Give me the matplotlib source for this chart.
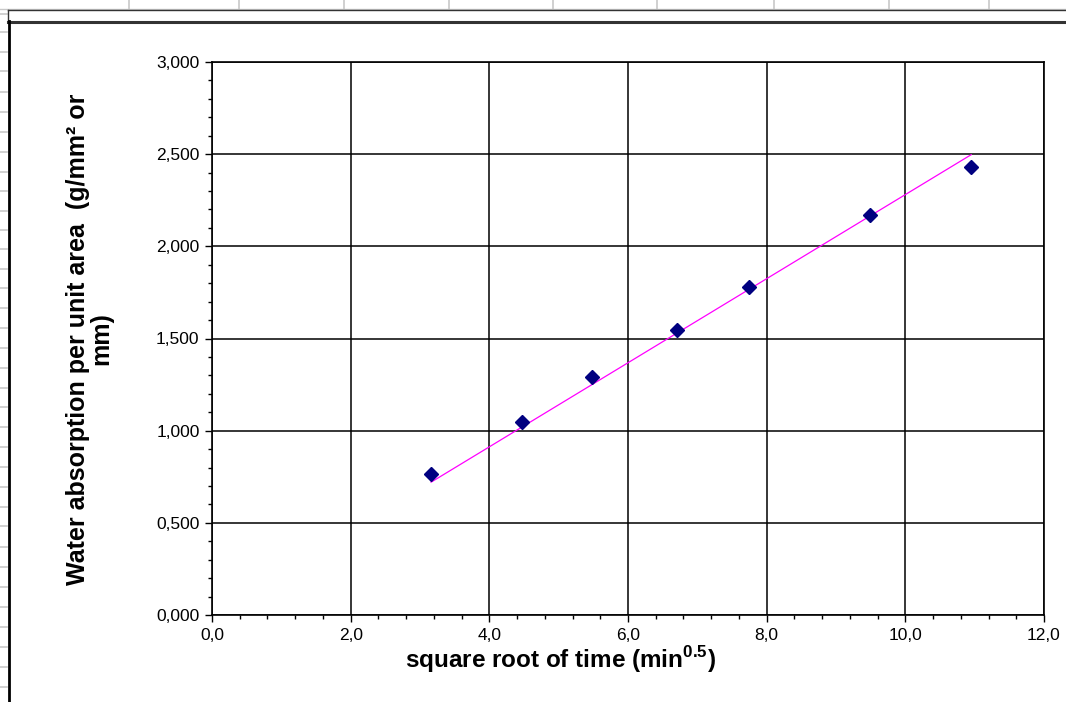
import matplotlib
matplotlib.use("Agg")
import matplotlib.pyplot as plt
import numpy as np
from matplotlib.lines import Line2D
from matplotlib.ticker import FuncFormatter, MultipleLocator

plt.rcParams['font.family'] = ['Liberation Sans', 'DejaVu Sans']
plt.rcParams['mathtext.fontset'] = 'custom'
plt.rcParams['mathtext.rm'] = 'Liberation Sans'
plt.rcParams['mathtext.bf'] = 'Liberation Sans:bold'

# data
sqrt_time = [3.16, 4.47, 5.48, 6.71, 7.75, 9.49, 10.95]
absorption = [0.765, 1.047, 1.291, 1.546, 1.779, 2.170, 2.430]

x = np.array(sqrt_time)
y = np.array(absorption)
# linear trendline through the origin, from first to last point
slope = np.sum(x * y) / np.sum(x * x)
trend_x = np.array([x.min(), x.max()])

fig = plt.figure(figsize=(10.66, 7.02), dpi=100)
W, H = 1066, 702

def fx(px):
    return px / W

def fy(py):
    return 1 - py / H

# spreadsheet cells behind the chart
grey = '#c8c8c8'
for cx in [129, 239, 344, 449, 553, 657, 774, 889, 989]:
    fig.add_artist(Line2D([fx(cx), fx(cx)], [fy(0), fy(9)], color=grey, lw=1.2))
for ry in [14, 32, 52, 71, 92, 112, 132, 152, 172, 191, 211, 230, 249, 269, 288,
           308, 328, 348, 368, 388, 407, 427, 447, 467, 487, 507, 526, 547, 567,
           587, 607, 627, 647, 667, 687]:
    fig.add_artist(Line2D([0, fx(7)], [fy(ry), fy(ry)], color=grey, lw=1.2))
fig.add_artist(Line2D([fx(0), 1], [fy(8.5), fy(8.5)], color=grey, lw=1.0))

# chart frame
fig.add_artist(Line2D([fx(8), 1], [fy(10), fy(10)], color='#333333', lw=1.0))
fig.add_artist(Line2D([fx(8), fx(8)], [fy(10), fy(21)], color='#333333', lw=1.0))
fig.add_artist(Line2D([fx(8), 1], [fy(21.5), fy(21.5)], color='#333333', lw=2.2))
fig.add_artist(Line2D([fx(8.5), fx(8.5)], [fy(21), 0], color='black', lw=2.0))

ax = fig.add_axes([fx(212), fy(615), fx(1044 - 212), (615 - 62) / H])

ax.plot(trend_x, slope * trend_x, color='#ff00ff', lw=0.9, zorder=3)
ax.plot(x, y, linestyle='none', marker='D', markersize=7,
        color='#000080', zorder=4)

ax.set_xlim(0, 12)
ax.set_ylim(0, 3)
ax.xaxis.set_major_locator(MultipleLocator(2))
ax.xaxis.set_minor_locator(MultipleLocator(0.4))
ax.yaxis.set_major_locator(MultipleLocator(0.5))
ax.yaxis.set_minor_locator(MultipleLocator(0.1))
ax.xaxis.set_major_formatter(FuncFormatter(lambda v, p: f"{v:.1f}".replace('.', ',')))
ax.yaxis.set_major_formatter(FuncFormatter(lambda v, p: f"{v:,.3f}".replace('.', ',')))

ax.grid(True, which='major', color='black', lw=1.1)
ax.set_axisbelow(True)
for s in ax.spines.values():
    s.set_color('black')
    s.set_linewidth(1.2)
ax.tick_params(which='major', direction='out', length=5, width=1, labelsize=12.5,
               colors='black', pad=4)
ax.tick_params(which='minor', direction='out', length=3, width=1)

fig.text(fx(560), fy(660), r"square root of time (min$^{\mathbf{0.5}}$)",
         ha='center', va='center', fontsize=17.5, fontweight='bold')
fig.text(fx(90), fy(339), "Water absorption per unit area  (g/mm² or\nmm)",
         ha='center', va='center', rotation=90, fontsize=18,
         fontweight='bold', linespacing=0.95)

fig.savefig("out.png", dpi=100)
